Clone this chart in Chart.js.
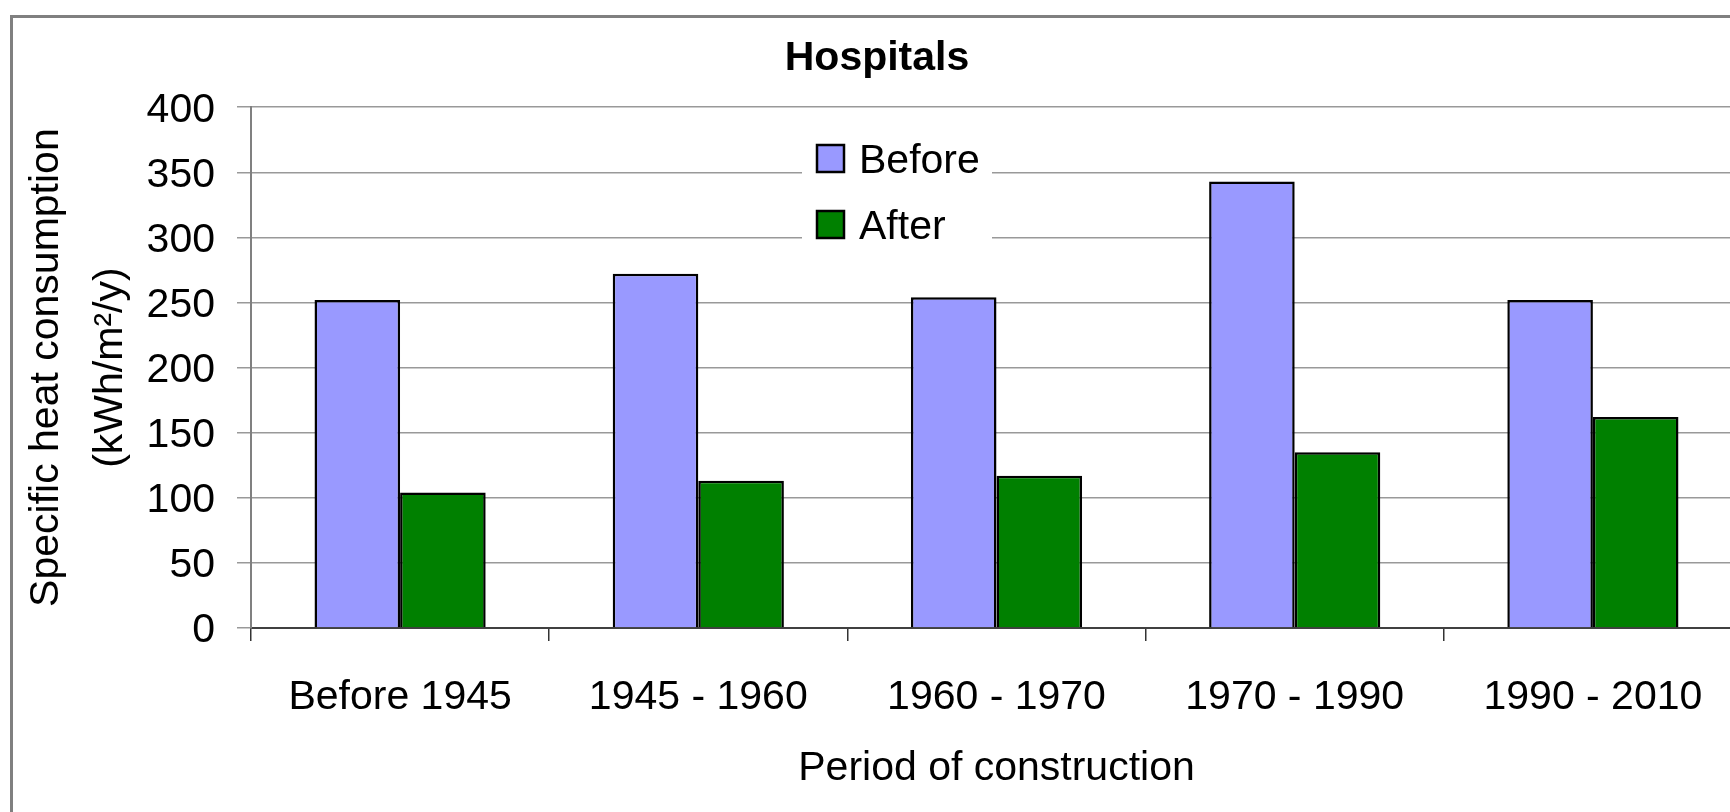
<!DOCTYPE html>
<html>
<head>
<meta charset="utf-8">
<script src="https://cdn.jsdelivr.net/npm/chart.js@4/dist/chart.umd.min.js"></script>
<style>
  html, body { margin: 0; padding: 0; background: #fff; overflow: hidden; }
  #wrap { width: 1760px; height: 830px; }
</style>
</head>
<body>
<div id="wrap"><canvas id="chart" width="1760" height="830"></canvas></div>
<script>
const FONT = '"Liberation Sans", Arial, Helvetica, sans-serif';

const periods = ['Before 1945', '1945 - 1960', '1960 - 1970', '1970 - 1990', '1990 - 2010'];
const beforeValues = [252, 272, 254, 343, 252];
const afterValues = [104, 113, 117, 135, 162];
const yTicks = [0, 50, 100, 150, 200, 250, 300, 350, 400];

// white page with the grey frame round the whole chart
const framePlugin = {
  id: 'frame',
  beforeDraw(chart) {
    const ctx = chart.ctx;
    ctx.save();
    ctx.fillStyle = '#fff';
    ctx.fillRect(0, 0, chart.width, chart.height);
    ctx.strokeStyle = '#808080';
    ctx.lineWidth = 3;
    ctx.strokeRect(11.5, 16.5, 1740, 808);
    ctx.restore();
  }
};

// legend box inside the plot, items stacked
const boxLegend = {
  id: 'boxLegend',
  afterDraw(chart) {
    const ctx = chart.ctx;
    ctx.save();
    ctx.fillStyle = '#fff';
    ctx.fillRect(802, 120, 190, 132);
    chart.data.datasets.forEach((ds, i) => {
      const y = 145 + i * 66;
      ctx.fillStyle = ds.backgroundColor;
      ctx.fillRect(817, y, 27, 27);
      ctx.strokeStyle = '#000';
      ctx.lineWidth = 2.5;
      ctx.strokeRect(817, y, 27, 27);
      ctx.fillStyle = '#000';
      ctx.font = '41px ' + FONT;
      ctx.textBaseline = 'middle';
      ctx.textAlign = 'left';
      ctx.fillText(ds.label, 859, y + 17);
    });
    ctx.restore();
  }
};

const ctx = document.getElementById('chart').getContext('2d');
new Chart(ctx, {
  type: 'bar',
  data: {
    labels: periods,
    datasets: [
      {
        label: 'Before',
        data: beforeValues,
        backgroundColor: '#9999ff',
        borderColor: '#000',
        borderWidth: 2.5,
        categoryPercentage: 0.574,
        barPercentage: 1
      },
      {
        label: 'After',
        data: afterValues,
        backgroundColor: '#008000',
        borderColor: '#000',
        borderWidth: 2.5,
        categoryPercentage: 0.574,
        barPercentage: 1
      }
    ]
  },
  options: {
    responsive: false,
    animation: false,
    devicePixelRatio: 1,
    layout: { padding: { left: 12, right: 18, top: 0, bottom: 0 } },
    plugins: {
      legend: { display: false },
      tooltip: { enabled: false },
      title: {
        display: true,
        text: 'Hospitals',
        color: '#000',
        font: { family: FONT, size: 41, weight: 'bold', lineHeight: 1.2 },
        padding: { top: 34, bottom: 24 }
      }
    },
    scales: {
      x: {
        afterFit(scale) { scale.height = 202; },
        grid: {
          offset: true,
          drawOnChartArea: false,
          tickLength: 13,
          color: '#333',
          lineWidth: 1.5
        },
        border: { color: '#404040', width: 2 },
        ticks: {
          color: '#000',
          padding: 32,
          maxRotation: 0,
          font: { family: FONT, size: 41 }
        },
        title: {
          display: true,
          text: 'Period of construction',
          color: '#000',
          font: { family: FONT, size: 41 },
          padding: { top: 0, bottom: 37 }
        }
      },
      y: {
        min: 0,
        max: 400,
        afterFit(scale) { scale.width = 239; },
        afterBuildTicks(scale) { scale.ticks = yTicks.map(v => ({ value: v })); },
        grid: {
          color: '#999',
          lineWidth: 1.5,
          tickLength: 14
        },
        border: { color: '#808080', width: 2 },
        ticks: {
          color: '#000',
          padding: 22,
          labelOffset: 3,
          font: { family: FONT, size: 41 }
        },
        title: {
          display: true,
          text: ['Specific heat consumption', '(kWh/m\u00b2/y)'],
          color: '#000',
          font: { family: FONT, size: 41, lineHeight: 1.58 },
          padding: { top: 2, bottom: 0 }
        }
      }
    }
  },
  plugins: [framePlugin, boxLegend]
});
</script>
</body>
</html>
